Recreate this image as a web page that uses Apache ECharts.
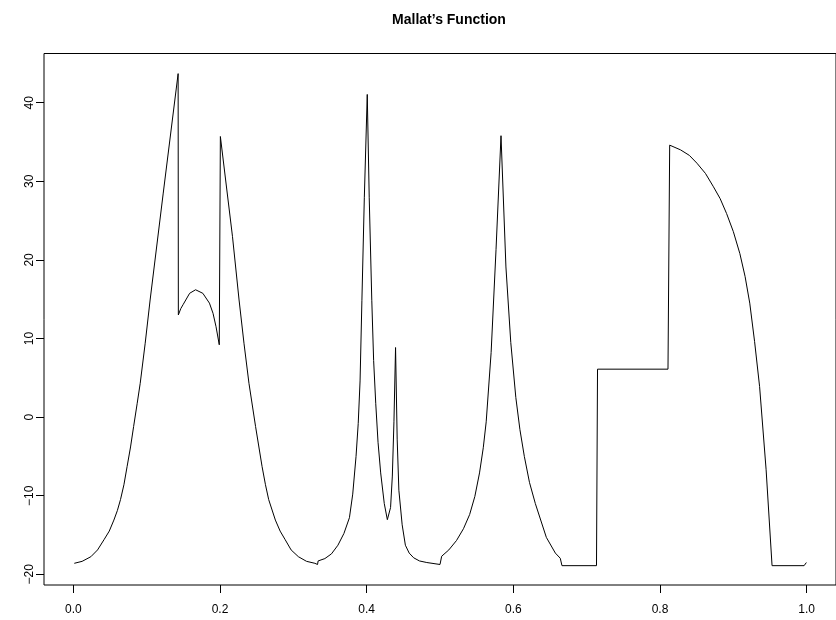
<!DOCTYPE html>
<html>
<head>
<meta charset="utf-8">
<title>Mallat's Function</title>
<script src="https://cdn.jsdelivr.net/npm/echarts@6/dist/echarts.min.js"></script>
<style>
  html, body { margin: 0; padding: 0; background: #fff; }
  #chart { width: 836px; height: 620px; }
</style>
</head>
<body>
<div id="chart"></div>
<script>
// points (x, value)
const xs = [
  0.0013, 0.012, 0.0239, 0.033, 0.0418, 0.049, 0.0553, 0.06, 0.0643, 0.069,
  0.0733, 0.078, 0.0822, 0.087, 0.0912, 0.098, 0.1047, 0.1226, 0.1429, 0.1432,
  0.1465, 0.1496, 0.1586, 0.1667, 0.1766, 0.1856, 0.1905, 0.1946, 0.199, 0.2005,
  0.217, 0.226, 0.2327, 0.2395, 0.2485, 0.2574, 0.262, 0.2664, 0.2755, 0.282,
  0.2889, 0.297, 0.3069, 0.318, 0.3294, 0.333, 0.3338, 0.343, 0.352, 0.3608,
  0.369, 0.3765, 0.381, 0.3855, 0.3885, 0.391, 0.3935, 0.3968, 0.4008, 0.4035,
  0.407, 0.4095, 0.4124, 0.4155, 0.4191, 0.424, 0.4282, 0.4305, 0.4326, 0.435,
  0.4372, 0.4394, 0.4416, 0.4439, 0.4484, 0.4528, 0.458, 0.4641, 0.472, 0.482,
  0.5, 0.5023, 0.512, 0.5225, 0.532, 0.5404, 0.5475, 0.5539, 0.559, 0.563,
  0.5697, 0.5764, 0.5832, 0.5899, 0.5965, 0.6034, 0.609, 0.615, 0.622, 0.63,
  0.645, 0.6573, 0.664, 0.6663, 0.7134, 0.7148, 0.8109, 0.8132, 0.828, 0.84,
  0.8504, 0.862, 0.8729, 0.882, 0.8908, 0.9, 0.9089, 0.916, 0.9224, 0.929,
  0.9358, 0.9447, 0.9528, 0.9965, 0.9996
];
const ys = [
  -18.6, -18.35, -17.76, -16.9, -15.6, -14.5, -13.1, -11.9, -10.5, -8.6,
  -6.3, -3.8, -1.2, 1.7, 4.3, 9.4, 14.9, 28.5, 43.7, 13.0,
  13.8, 14.3, 15.75, 16.2, 15.75, 14.5, 13.2, 11.5, 9.2, 35.7,
  23.0, 14.9, 9.4, 4.3, -1.2, -6.3, -8.6, -10.5, -13.1, -14.5,
  -15.6, -16.9, -17.76, -18.35, -18.6, -18.75, -18.3, -18.0, -17.4, -16.3,
  -14.8, -12.8, -9.8, -5.0, -0.8, 4.6, 14.8, 27.9, 41.05, 27.9,
  14.8, 7.2, 1.7, -3.2, -7.1, -11.0, -13.05, -13.2, -11.5, -7.5,
  -0.6, 8.85, -2.8, -9.3, -13.7, -16.3, -17.3, -17.9, -18.3, -18.5,
  -18.75, -17.7, -16.9, -15.7, -14.2, -12.4, -10.1, -7.1, -3.9, -0.6,
  8.2, 21.3, 35.8, 19.1, 9.5, 2.5, -1.6, -5.0, -8.3, -11.0,
  -15.3, -17.3, -17.96, -18.9, -18.9, 6.1, 6.1, 34.6, 34.0, 33.3,
  32.3, 31.0, 29.3, 27.8, 25.9, 23.6, 20.8, 17.9, 14.5, 9.6,
  3.9, -6.7, -18.9, -18.9, -18.5
];

const xTicks = [0, 0.2, 0.4, 0.6, 0.8, 1.0];
const yTicks = [-20, -10, 0, 10, 20, 30, 40];

const FONT = "'Liberation Sans', Arial, Helvetica, sans-serif";

const chart = echarts.init(document.getElementById("chart"), null, { renderer: "canvas" });

const option = {
  animation: false,
  backgroundColor: "#fff",
  title: {
    text: "Mallat\u2019s Function",
    left: 444,
    top: 8,
    textAlign: "center",
    textStyle: { fontFamily: FONT, fontSize: 14, fontWeight: "bold", color: "#000" }
  },
  grid: {
    left: 44,
    top: 53.5,
    width: 801,
    height: 531.5,
    show: true,
    borderColor: "#000",
    borderWidth: 1,
    backgroundColor: "transparent"
  },
  xAxis: {
    type: "value",
    min: -0.04,
    max: 1.04,
    axisLine: { show: false, onZero: false },
    splitLine: { show: false },
    axisTick: {
      show: true,
      inside: false,
      length: 8,
      customValues: xTicks,
      lineStyle: { color: "#000", width: 1 }
    },
    axisLabel: {
      customValues: xTicks,
      margin: 19,
      fontFamily: FONT,
      fontSize: 12,
      color: "#000",
      formatter: (v) => v.toFixed(1)
    }
  },
  yAxis: {
    type: "value",
    min: -21.36,
    max: 46.26,
    axisLine: { show: false, onZero: false },
    splitLine: { show: false },
    axisTick: {
      show: true,
      inside: false,
      length: 8,
      customValues: yTicks,
      lineStyle: { color: "#000", width: 1 }
    },
    axisLabel: {
      customValues: yTicks,
      rotate: 90,
      margin: 8,
      fontFamily: FONT,
      fontSize: 12,
      color: "#000",
      formatter: (v) => (v < 0 ? "\u2212" + Math.abs(v) : String(v))
    }
  },
  series: [
    {
      type: "line",
      data: xs.map((x, i) => [x, ys[i]]),
      showSymbol: false,
      smooth: false,
      lineStyle: { color: "#000", width: 1 },
      clip: true
    }
  ]
};

chart.setOption(option);
</script>
</body>
</html>
